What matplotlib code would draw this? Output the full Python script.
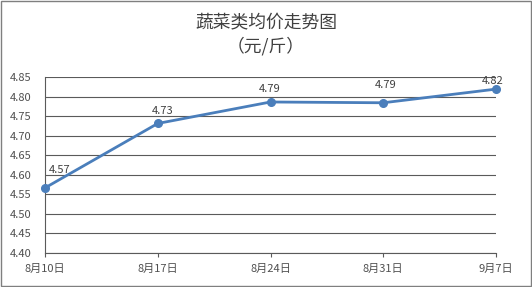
import matplotlib
matplotlib.use("Agg")
import matplotlib.pyplot as plt
from matplotlib.patches import Rectangle

plt.rcParams['font.family'] = ['Noto Sans CJK SC', 'DejaVu Sans']

dates = ["8月10日", "8月17日", "8月24日", "8月31日", "9月7日"]
prices = [4.566, 4.731, 4.786, 4.784, 4.819]
labels = ["4.57", "4.73", "4.79", "4.79", "4.82"]
yticks = [4.40, 4.45, 4.50, 4.55, 4.60, 4.65, 4.70, 4.75, 4.80, 4.85]

fig = plt.figure(figsize=(5.32, 2.87), dpi=100)
ax = fig.add_axes([45/532, 1-252.7/287, (496-45)/532, (252.7-77)/287])

x = list(range(len(dates)))
ax.plot(x, prices, color='#4A7EBB', linewidth=2.0, marker='o', markersize=5.5,
        zorder=3, clip_on=False)
offsets = [(3, 11), (-4.3, 6.5), (-8.6, 7.2), (-5.8, 10.8), (-10, 3.6)]
for xi, yi, lab, off in zip(x, prices, labels, offsets):
    ax.annotate(lab, (xi, yi), xytext=off, textcoords='offset points',
                fontsize=8, color='#404040', ha='left', va='baseline')

ax.set_xlim(0, len(dates)-1)
ax.set_ylim(4.40, 4.85)
ax.set_yticks(yticks)
ax.set_yticklabels([f"{v:.2f}" for v in yticks])
ax.set_xticks(x)
ax.set_xticklabels(dates)
ax.yaxis.grid(True, color='#5a5a5a', linewidth=0.8)
ax.set_axisbelow(True)
for s in ['top', 'right']:
    ax.spines[s].set_visible(False)
ax.spines['left'].set_color('#5a5a5a')
ax.spines['bottom'].set_color('#5a5a5a')
ax.spines['left'].set_linewidth(0.8)
ax.spines['bottom'].set_linewidth(0.8)
ax.tick_params(axis='y', length=0, labelsize=8, colors='#505050', pad=10)
ax.tick_params(axis='x', length=3, labelsize=8, colors='#505050', direction='out', pad=5)
ax.tick_params(axis='x', color='#5a5a5a')

fig.text(0.5, 1-22.5/287, "蔬菜类均价走势图", ha='center', va='center', fontsize=12.8, color='#404040')
fig.text(0.5, 1-46/287, "（元/斤）", ha='center', va='center', fontsize=12.8, color='#404040')

fig.patches.append(Rectangle((1/532, 1/287), 530/532, 285/287, transform=fig.transFigure,
                             fill=False, edgecolor='#7f7f7f', linewidth=1.0))

fig.savefig("out.png", dpi=100)
